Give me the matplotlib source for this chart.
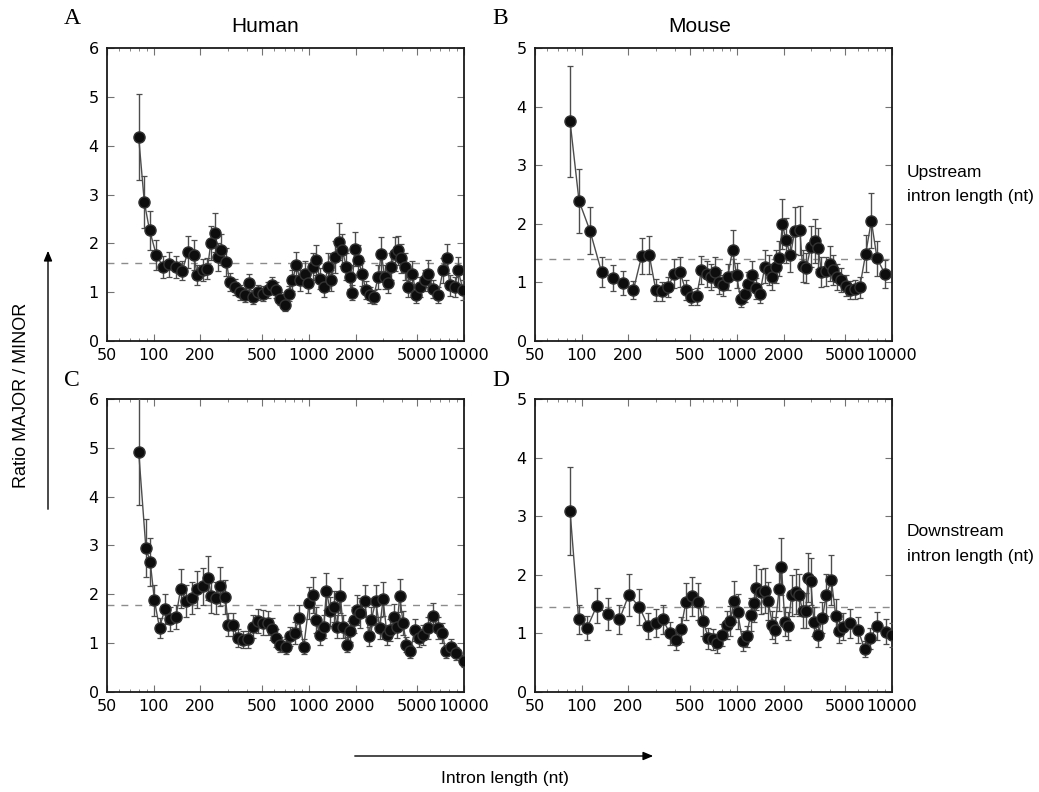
import numpy as np
import matplotlib.pyplot as plt
from matplotlib.ticker import FixedLocator, FixedFormatter, LogLocator, NullFormatter

# ---- Panel A: Human, upstream intron length ----
human_up_len = [80, 87, 94, 104, 115, 125, 140, 153, 166, 181, 191, 208, 222, 233, 250,
                260, 273, 294, 309, 333, 358, 385, 409, 436, 470, 507, 546, 582, 618, 655,
                702, 745, 783, 830, 881, 940, 988, 1064, 1107, 1175, 1247, 1330, 1397, 1483,
                1565, 1643, 1744, 1833, 1888, 1975, 2073, 2212, 2322, 2464, 2616, 2791, 2930,
                3081, 3236, 3401, 3573, 3754, 3944, 4144, 4354, 4643, 4930, 5233, 5580, 5860,
                6310, 6800, 7330, 7775, 8090, 8710, 9160, 9860]
human_up_ratio = [4.17, 2.84, 2.27, 1.76, 1.52, 1.57, 1.52, 1.44, 1.83, 1.76, 1.35, 1.45, 1.48,
                  2.00, 2.22, 1.72, 1.87, 1.62, 1.21, 1.11, 1.00, 0.94, 1.18, 0.90, 1.00, 0.97,
                  1.04, 1.14, 1.04, 0.87, 0.73, 0.97, 1.24, 1.55, 1.24, 1.38, 1.18, 1.52, 1.66,
                  1.28, 1.11, 1.52, 1.24, 1.72, 2.03, 1.86, 1.52, 1.31, 0.99, 1.89, 1.66, 1.38,
                  1.04, 0.94, 0.90, 1.31, 1.79, 1.31, 1.18, 1.52, 1.79, 1.86, 1.69, 1.52, 1.11,
                  1.38, 0.94, 1.11, 1.24, 1.38, 1.07, 0.94, 1.45, 1.69, 1.14, 1.11, 1.45, 1.04]
human_up_err = [0.88, 0.53, 0.40, 0.30, 0.22, 0.25, 0.22, 0.20, 0.33, 0.30, 0.20, 0.22, 0.22,
                0.35, 0.40, 0.28, 0.32, 0.28, 0.18, 0.16, 0.15, 0.14, 0.20, 0.14, 0.15, 0.15,
                0.16, 0.18, 0.16, 0.14, 0.12, 0.16, 0.22, 0.28, 0.22, 0.25, 0.20, 0.28, 0.30,
                0.22, 0.20, 0.28, 0.22, 0.32, 0.38, 0.33, 0.28, 0.24, 0.16, 0.35, 0.30, 0.25,
                0.18, 0.16, 0.15, 0.24, 0.35, 0.24, 0.20, 0.28, 0.35, 0.30, 0.30, 0.28, 0.20,
                0.25, 0.16, 0.20, 0.22, 0.28, 0.18, 0.16, 0.26, 0.30, 0.22, 0.20, 0.28, 0.20]

# ---- Panel B: Mouse, upstream intron length ----
mouse_up_len = [84, 96, 113, 134, 158, 185, 215, 243, 272, 300, 327, 361, 393, 429, 467, 502,
                549, 591, 637, 676, 721, 769, 816, 871, 937, 995, 1055, 1125, 1182, 1242, 1324,
                1405, 1513, 1614, 1695, 1782, 1871, 1966, 2066, 2213, 2360, 2543, 2646, 2807,
                2990, 3174, 3336, 3505, 3774, 3969, 4170, 4424, 4718, 5034, 5335, 5742, 6190,
                6760, 7350, 8000, 8970]
mouse_up_ratio = [3.75, 2.39, 1.88, 1.18, 1.08, 0.99, 0.87, 1.45, 1.47, 0.87, 0.85, 0.92, 1.15,
                  1.18, 0.87, 0.75, 0.76, 1.21, 1.15, 1.09, 1.18, 1.01, 0.95, 1.09, 1.55, 1.12,
                  0.72, 0.81, 0.98, 1.12, 0.90, 0.81, 1.27, 1.21, 1.09, 1.27, 1.41, 2.00, 1.72,
                  1.47, 1.88, 1.89, 1.28, 1.25, 1.61, 1.71, 1.58, 1.18, 1.19, 1.32, 1.21, 1.09,
                  1.04, 0.94, 0.87, 0.88, 0.92, 1.49, 2.05, 1.41, 1.15]
mouse_up_err = [0.95, 0.55, 0.40, 0.25, 0.22, 0.20, 0.15, 0.30, 0.32, 0.18, 0.16, 0.17, 0.25,
                0.25, 0.17, 0.14, 0.14, 0.24, 0.22, 0.22, 0.25, 0.20, 0.18, 0.22, 0.35, 0.22,
                0.14, 0.15, 0.20, 0.25, 0.18, 0.16, 0.28, 0.25, 0.22, 0.28, 0.30, 0.43, 0.38,
                0.30, 0.40, 0.42, 0.27, 0.26, 0.35, 0.38, 0.35, 0.25, 0.25, 0.30, 0.25, 0.22,
                0.20, 0.18, 0.16, 0.16, 0.18, 0.32, 0.47, 0.30, 0.24]

# ---- Panel C: Human, downstream intron length ----
human_down_len = [80, 89, 95, 101, 109, 118, 128, 139, 149, 162, 177, 191, 208, 224, 235, 251,
                  269, 290, 301, 324, 349, 376, 405, 436, 470, 507, 546, 582, 618, 655, 709,
                  752, 810, 864, 927, 1003, 1064, 1107, 1175, 1247, 1297, 1377, 1446, 1520,
                  1596, 1660, 1762, 1850, 1945, 2043, 2146, 2290, 2443, 2528, 2697, 2862, 3006,
                  3191, 3351, 3521, 3698, 3852, 4045, 4253, 4512, 4806, 5127, 5443, 5860, 6310,
                  6800, 7256, 7620, 8295, 8930, 10000]
human_down_ratio = [4.92, 2.95, 2.66, 1.88, 1.31, 1.70, 1.49, 1.53, 2.11, 1.87, 1.92, 2.10,
                    2.16, 2.34, 1.96, 1.92, 2.16, 1.95, 1.38, 1.38, 1.10, 1.07, 1.08, 1.34,
                    1.45, 1.42, 1.41, 1.29, 1.10, 0.97, 0.93, 1.14, 1.21, 1.51, 0.93, 1.82,
                    1.99, 1.48, 1.17, 1.34, 2.06, 1.65, 1.75, 1.34, 1.97, 1.34, 0.97, 1.24,
                    1.48, 1.68, 1.62, 1.86, 1.14, 1.48, 1.86, 1.31, 1.90, 1.17, 1.27, 1.53,
                    1.34, 1.97, 1.41, 0.97, 0.83, 1.27, 1.10, 1.17, 1.31, 1.56, 1.31, 1.21,
                    0.83, 0.93, 0.79, 0.64]
human_down_err = [1.10, 0.60, 0.50, 0.32, 0.20, 0.30, 0.24, 0.25, 0.40, 0.33, 0.33, 0.38,
                  0.38, 0.45, 0.35, 0.33, 0.40, 0.35, 0.24, 0.24, 0.18, 0.17, 0.17, 0.24,
                  0.25, 0.25, 0.25, 0.22, 0.18, 0.16, 0.15, 0.20, 0.22, 0.27, 0.15, 0.33,
                  0.37, 0.27, 0.20, 0.24, 0.38, 0.30, 0.32, 0.24, 0.36, 0.24, 0.16, 0.22,
                  0.27, 0.31, 0.30, 0.33, 0.20, 0.27, 0.33, 0.23, 0.35, 0.20, 0.22, 0.28,
                  0.24, 0.34, 0.25, 0.16, 0.14, 0.22, 0.18, 0.20, 0.23, 0.27, 0.23, 0.21,
                  0.14, 0.16, 0.13, 0.12]

# ---- Panel D: Mouse, downstream intron length ----
mouse_down_len = [84, 95.5, 108, 125, 147, 175, 201, 235, 268, 301, 332, 370, 404, 435, 469,
                  510, 564, 607, 653, 703, 746, 803, 857, 901, 961, 1009, 1087, 1153, 1224,
                  1286, 1336, 1439, 1512, 1589, 1694, 1754, 1871, 1937, 2036, 2139, 2248, 2398,
                  2518, 2646, 2780, 2878, 2990, 3130, 3336, 3556, 3774, 4063, 4334, 4558, 4831,
                  5335, 6035, 6660, 7180, 8035, 9180, 10000]
mouse_down_ratio = [3.09, 1.24, 1.09, 1.47, 1.33, 1.24, 1.66, 1.45, 1.12, 1.18, 1.24, 1.00,
                    0.89, 1.07, 1.54, 1.63, 1.54, 1.21, 0.92, 0.90, 0.83, 0.97, 1.14, 1.21,
                    1.55, 1.37, 0.87, 0.95, 1.32, 1.51, 1.78, 1.71, 1.73, 1.55, 1.15, 1.06,
                    1.76, 2.14, 1.20, 1.13, 1.65, 1.71, 1.65, 1.39, 1.39, 1.95, 1.89, 1.20,
                    0.97, 1.27, 1.66, 1.91, 1.30, 1.04, 1.11, 1.17, 1.06, 0.73, 0.92, 1.12,
                    1.03, 0.97]
mouse_down_err = [0.75, 0.25, 0.20, 0.30, 0.27, 0.25, 0.36, 0.30, 0.22, 0.24, 0.25, 0.20,
                  0.17, 0.21, 0.32, 0.34, 0.32, 0.25, 0.18, 0.18, 0.16, 0.19, 0.24, 0.25,
                  0.35, 0.30, 0.17, 0.18, 0.28, 0.32, 0.38, 0.38, 0.38, 0.33, 0.24, 0.22,
                  0.38, 0.48, 0.25, 0.24, 0.35, 0.38, 0.36, 0.30, 0.30, 0.42, 0.40, 0.25,
                  0.20, 0.27, 0.36, 0.42, 0.28, 0.21, 0.23, 0.25, 0.22, 0.14, 0.18, 0.24,
                  0.21, 0.20]

# dashed reference line (overall ratio) per panel
mean_ratio = {"A": 1.60, "B": 1.40, "C": 1.78, "D": 1.45}

x_ticks = [50, 100, 200, 500, 1000, 2000, 5000, 10000]
x_tick_labels = ["50", "100", "200", "500", "1000", "2000", "5000", "10000"]


def draw_panel(ax, lengths, ratios, errors, ymax, ref):
    ax.errorbar(lengths, ratios, yerr=errors, fmt="-o", color="0.3", lw=1.0,
                ecolor="0.3", elinewidth=1.0, capsize=2.5, capthick=0.9,
                mfc="0.05", mec="0.2", ms=8, zorder=3)
    ax.axhline(ref, color="0.55", lw=1.0, dashes=(5, 5), zorder=1)
    ax.set_xscale("log")
    ax.set_xlim(50, 10000)
    ax.set_ylim(0, ymax)
    ax.xaxis.set_major_locator(FixedLocator(x_ticks))
    ax.xaxis.set_major_formatter(FixedFormatter(x_tick_labels))
    ax.xaxis.set_minor_locator(LogLocator(base=10, subs=np.arange(2, 10)))
    ax.xaxis.set_minor_formatter(NullFormatter())
    ax.set_yticks(range(ymax + 1))
    ax.tick_params(which="both", direction="in", top=True, right=True,
                   color="0.45", labelsize=11.5)
    ax.tick_params(axis="x", pad=5)
    ax.tick_params(axis="y", pad=6)
    ax.tick_params(which="major", length=5, width=0.8)
    ax.tick_params(which="minor", length=2.5, width=0.6)
    for sp in ax.spines.values():
        sp.set_linewidth(1.3)
        sp.set_color("0.1")


fig = plt.figure(figsize=(10.39, 7.92), dpi=100)
w, h = 0.3436, 0.370
ax_a = fig.add_axes([0.103, 0.5694, w, h])
ax_b = fig.add_axes([0.515, 0.5694, w, h])
ax_c = fig.add_axes([0.103, 0.1263, w, h])
ax_d = fig.add_axes([0.515, 0.1263, w, h])

draw_panel(ax_a, human_up_len, human_up_ratio, human_up_err, 6, mean_ratio["A"])
draw_panel(ax_b, mouse_up_len, mouse_up_ratio, mouse_up_err, 5, mean_ratio["B"])
draw_panel(ax_c, human_down_len, human_down_ratio, human_down_err, 6, mean_ratio["C"])
draw_panel(ax_d, mouse_down_len, mouse_down_ratio, mouse_down_err, 5, mean_ratio["D"])

# panel letters
serif = ["Liberation Serif", "DejaVu Serif"]
sans = ["Liberation Sans", "DejaVu Sans"]
for letter, (px, py) in {"A": (64, 18), "B": (492, 18), "C": (64, 380), "D": (492, 380)}.items():
    fig.text(px / 1039, 1 - py / 792, letter, family=serif, fontsize=17,
             ha="left", va="center")

fig.text(265 / 1039, 1 - 27 / 792, "Human", family=sans, fontsize=15, ha="center", va="center")
fig.text(700 / 1039, 1 - 27 / 792, "Mouse", family=sans, fontsize=15, ha="center", va="center")

fig.text(907 / 1039, 1 - 185 / 792, "Upstream\nintron length (nt)", family=sans,
         fontsize=12.5, ha="left", va="center", linespacing=1.75)
fig.text(907 / 1039, 1 - 544 / 792, "Downstream\nintron length (nt)", family=sans,
         fontsize=12.5, ha="left", va="center", linespacing=1.75)

fig.text(22 / 1039, 1 - 395 / 792, "Ratio MAJOR / MINOR", family=sans, fontsize=13,
         rotation=90, ha="center", va="center")
fig.text(505 / 1039, 1 - 778 / 792, "Intron length (nt)", family=sans, fontsize=12.5,
         ha="center", va="center")

arrow = dict(arrowstyle="-|>,head_length=0.6,head_width=0.25", color="black", lw=1.0)
fig.add_artist(plt.Annotation("", xy=(48 / 1039, 1 - 248 / 792), xytext=(48 / 1039, 1 - 512 / 792),
                              xycoords="figure fraction", textcoords="figure fraction",
                              arrowprops=arrow))
fig.add_artist(plt.Annotation("", xy=(656 / 1039, 1 - 756 / 792), xytext=(352 / 1039, 1 - 756 / 792),
                              xycoords="figure fraction", textcoords="figure fraction",
                              arrowprops=arrow))

fig.savefig("out.png", dpi=100)
